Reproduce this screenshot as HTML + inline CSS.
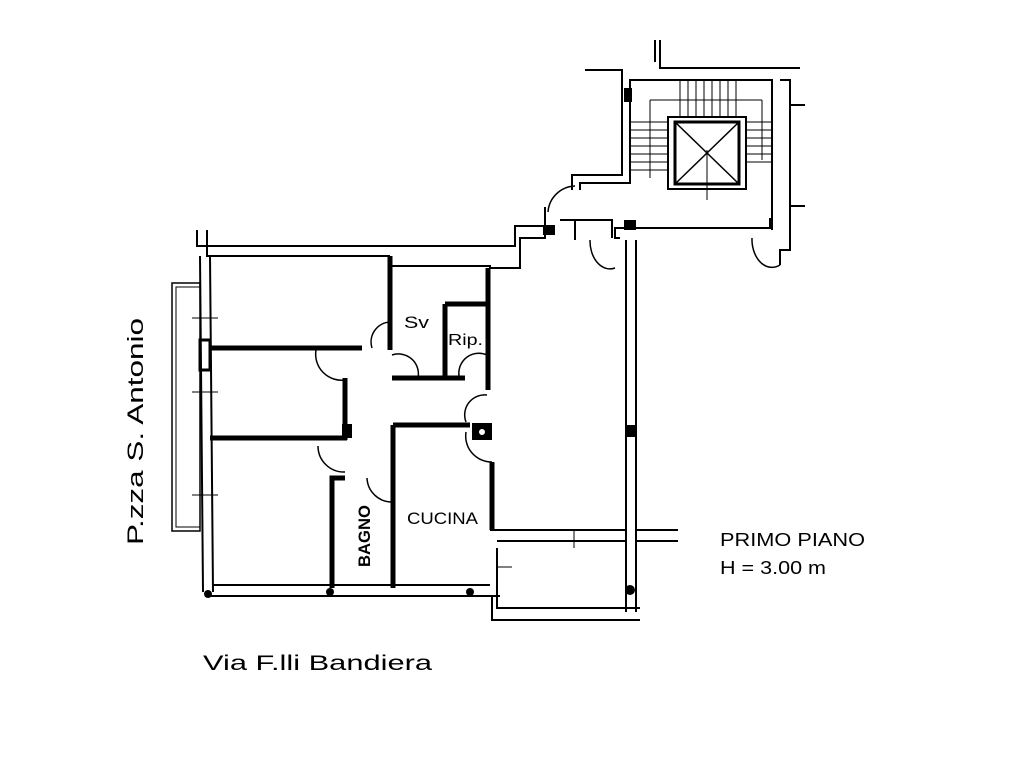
<!DOCTYPE html>
<html><head><meta charset="utf-8"><style>html,body{margin:0;padding:0;background:#fff}svg{display:block}</style></head>
<body>
<svg width="1035" height="768" viewBox="0 0 1035 768" xmlns="http://www.w3.org/2000/svg" font-family="Liberation Sans, sans-serif">
<g fill="none" stroke="#000" stroke-width="2">
<polyline points="197,230 197,246 515,246 515,226 545,226 545,207"/>
<polyline points="207,230 207,256 390,256"/>
<polyline points="390,266 490,266 490,268 520,268 520,238 545,238 545,228"/>
<line x1="200" y1="256" x2="203" y2="592"/>
<line x1="210" y1="256" x2="213" y2="592"/>
<rect x="172" y="283" width="28" height="248" stroke-width="1.5"/>
<rect x="176" y="287" width="24" height="240" stroke-width="1"/>
<line x1="205" y1="596" x2="500" y2="596"/>
<line x1="213" y1="585" x2="332" y2="585"/>
<line x1="332" y1="585" x2="490" y2="585"/>
<polyline points="492,596 492,620 640,620"/>
<polyline points="497,548 497,608 640,608"/>
<line x1="490" y1="530" x2="626" y2="530"/>
<line x1="497" y1="541" x2="626" y2="541"/>
<line x1="636" y1="530" x2="678" y2="530"/>
<line x1="636" y1="541" x2="678" y2="541"/>
<line x1="626" y1="240" x2="626" y2="612"/>
<line x1="636" y1="240" x2="636" y2="612"/>
<polyline points="612,238 612,220 560,220"/>
<polyline points="620,238 615,238 615,228 770,228 770,218"/>
<polyline points="575,240 575,220"/>
<polyline points="572,190 572,175 622,175 622,70 585,70"/>
<polyline points="580,190 580,183 630,183 630,80 772,80 772,230"/>
<polyline points="660,40 660,68 800,68"/>
<polyline points="655,40 655,62"/>
<polyline points="780,80 790,80 790,250 780,250 780,265"/>
<line x1="790" y1="105" x2="805" y2="105"/>
<line x1="790" y1="206" x2="805" y2="206"/>
<rect x="668" y="117" width="78" height="72" stroke-width="2"/>
<rect x="675" y="122" width="64" height="62" stroke-width="3"/>
<line x1="675" y1="122" x2="739" y2="184" stroke-width="1.5"/>
<line x1="739" y1="122" x2="675" y2="184" stroke-width="1.5"/>
<line x1="707" y1="150" x2="707" y2="200" stroke-width="1"/>
<g stroke-width="1">
<line x1="650" y1="100" x2="650" y2="178"/><line x1="650" y1="100" x2="762" y2="100"/><line x1="762" y1="100" x2="762" y2="160"/>
<line x1="680" y1="80" x2="680" y2="117"/><line x1="688" y1="80" x2="688" y2="117"/><line x1="696" y1="80" x2="696" y2="117"/><line x1="704" y1="80" x2="704" y2="117"/><line x1="712" y1="80" x2="712" y2="117"/><line x1="720" y1="80" x2="720" y2="117"/><line x1="728" y1="80" x2="728" y2="117"/><line x1="736" y1="80" x2="736" y2="117"/>
<line x1="630" y1="122" x2="668" y2="122"/><line x1="630" y1="130" x2="668" y2="130"/><line x1="630" y1="138" x2="668" y2="138"/><line x1="630" y1="146" x2="668" y2="146"/><line x1="630" y1="154" x2="668" y2="154"/><line x1="630" y1="162" x2="668" y2="162"/><line x1="630" y1="170" x2="668" y2="170"/>
<line x1="746" y1="122" x2="772" y2="122"/><line x1="746" y1="130" x2="772" y2="130"/><line x1="746" y1="138" x2="772" y2="138"/><line x1="746" y1="146" x2="772" y2="146"/><line x1="746" y1="154" x2="772" y2="154"/><line x1="746" y1="162" x2="772" y2="162"/>
</g>
<path d="M548,212 A28,28 0 0 1 575,186" stroke-width="1.5"/>
<path d="M590,240 A20,28 0 0 0 615,268" stroke-width="1.5"/>
<path d="M752,238 A20,28 0 0 0 780,265" stroke-width="1.5"/>
<path d="M372,348 A20,20 0 0 1 390,322" stroke-width="1.5"/>
<path d="M316,350 A26,26 0 0 0 345,380" stroke-width="1.5"/>
<path d="M392,355 A20,20 0 0 1 418,378" stroke-width="1.5"/>
<path d="M460,380 A20,20 0 0 1 487,355" stroke-width="1.5"/>
<path d="M487,395 A20,20 0 0 0 466,422" stroke-width="1.5"/>
<path d="M466,432 A26,26 0 0 0 492,462" stroke-width="1.5"/>
<path d="M318,446 A26,26 0 0 0 345,472" stroke-width="1.5"/>
<path d="M367,478 A25,25 0 0 0 392,502" stroke-width="1.5"/>
<g stroke-width="1"><line x1="192" y1="318" x2="218" y2="318"/><line x1="192" y1="392" x2="218" y2="392"/><line x1="192" y1="495" x2="218" y2="495"/><line x1="574" y1="530" x2="574" y2="548"/><line x1="497" y1="567" x2="512" y2="567"/></g>
</g>
<g fill="none" stroke="#000" stroke-width="5">
<line x1="390" y1="256" x2="390" y2="350"/>
<line x1="210" y1="348" x2="362" y2="348"/>
<line x1="345" y1="378" x2="345" y2="440"/>
<line x1="210" y1="438" x2="347" y2="438"/>
<line x1="392" y1="378" x2="465" y2="378"/>
<line x1="445" y1="304" x2="445" y2="378"/>
<polyline points="445,304 488,304"/>
<line x1="488" y1="268" x2="488" y2="390"/>
<polyline points="332,588 332,478 345,478"/>
<line x1="393" y1="425" x2="393" y2="588"/>
<line x1="393" y1="425" x2="470" y2="425"/>
<line x1="492" y1="462" x2="492" y2="530"/>
</g>
<rect x="472" y="423" width="20" height="17" fill="#000"/>
<circle cx="482" cy="432" r="3" fill="#fff"/>
<rect x="200" y="340" width="10" height="30" fill="none" stroke="#000" stroke-width="3"/>
<rect x="342" y="424" width="10" height="14" fill="#000"/>
<rect x="626" y="425" width="10" height="12" fill="#000"/>
<rect x="543" y="225" width="12" height="10" fill="#000"/>
<rect x="624" y="220" width="12" height="10" fill="#000"/>
<rect x="624" y="88" width="8" height="14" fill="#000"/>
<circle cx="208" cy="594" r="4" fill="#000"/><circle cx="330" cy="592" r="4" fill="#000"/><circle cx="470" cy="592" r="4" fill="#000"/><circle cx="630" cy="590" r="5" fill="#000"/>
<g fill="#000">
<text x="404" y="328" font-size="17" textLength="25" lengthAdjust="spacingAndGlyphs">Sv</text>
<text x="448" y="345" font-size="16" textLength="35" lengthAdjust="spacingAndGlyphs">Rip.</text>
<text x="407" y="524" font-size="17" textLength="71" lengthAdjust="spacingAndGlyphs">CUCINA</text>
<text transform="translate(370,567) rotate(-90)" font-size="17" font-weight="bold" textLength="62" lengthAdjust="spacingAndGlyphs">BAGNO</text>
<text x="720" y="546" font-size="18" textLength="145" lengthAdjust="spacingAndGlyphs">PRIMO PIANO</text>
<text x="720" y="574" font-size="18" textLength="106" lengthAdjust="spacingAndGlyphs">H = 3.00 m</text>
<text x="203" y="670" font-size="21" textLength="229" lengthAdjust="spacingAndGlyphs">Via F.lli Bandiera</text>
<text transform="translate(143,545) rotate(-90)" font-size="22" textLength="227" lengthAdjust="spacingAndGlyphs">P.zza S. Antonio</text>
</g>
</svg>
</body></html>
